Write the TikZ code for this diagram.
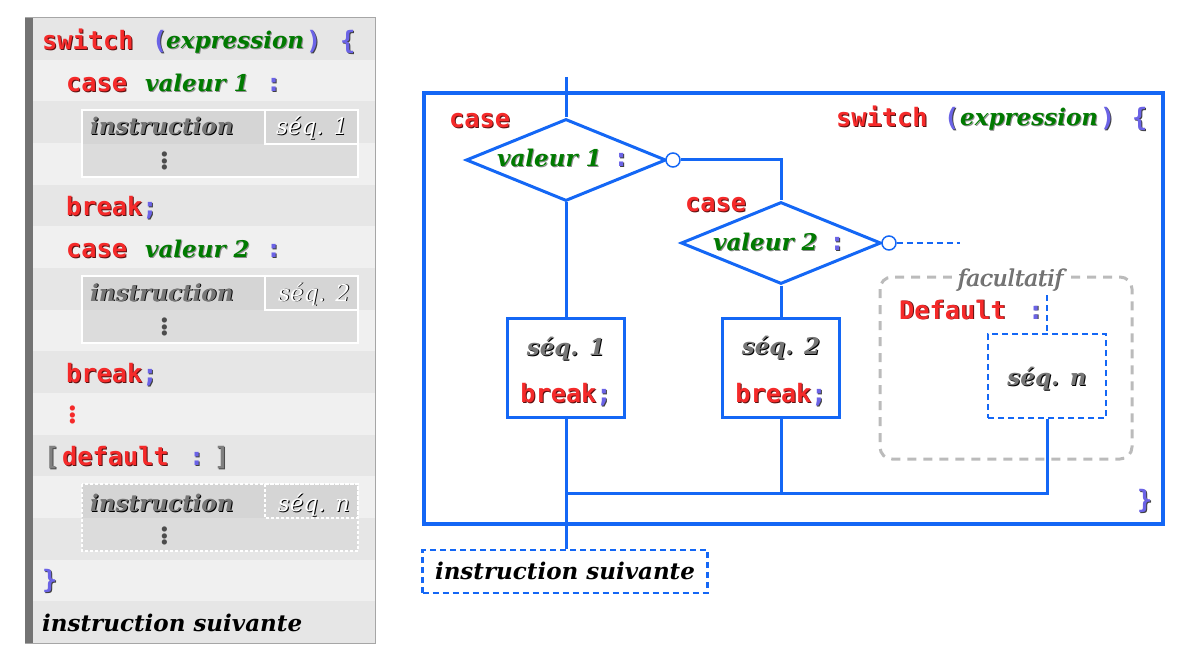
\documentclass[tikz,border=0pt]{standalone}
\usepackage{fontspec}
\setmainfont{DejaVu Serif}
\newfontfamily\kwf{DejaVu Sans Mono}[Scale=1.1]
\usetikzlibrary{shapes.geometric}
\definecolor{kred}{HTML}{F52A2A}
\definecolor{kredsh}{HTML}{5A1010}
\definecolor{grn}{HTML}{007A00}
\definecolor{purp}{HTML}{6B63E6}
\definecolor{gtxt}{HTML}{777777}
\definecolor{lblue}{HTML}{1467F5}
\definecolor{rowA}{HTML}{E6E6E6}
\definecolor{rowB}{HTML}{F0F0F0}
\definecolor{boxA}{HTML}{D5D5D5}
\definecolor{boxB}{HTML}{DCDCDC}
\definecolor{fgray}{HTML}{BBBBBB}
\newcommand\shd[3]{\rlap{\kern1pt\raisebox{-1pt}{\color{#1}#3}}{\color{#2}#3}}
\newcommand\kw[1]{\shd{kredsh}{kred}{\kwf\bfseries #1}}
\newcommand\pu[1]{\shd{black!75}{purp}{\kwf\bfseries #1}}
\newcommand\gr[1]{\shd{black!45}{grn}{\itshape\bfseries #1}}
\newcommand\gy[1]{\shd{black}{gtxt}{\itshape\bfseries #1}}
\newcommand\wh[1]{\shd{black}{white}{\itshape #1}}
\newcommand\bk[1]{{\color{black}\itshape\bfseries #1}}
\begin{document}
\begin{tikzpicture}[x=1pt,y=-1pt,
  txt/.style={inner sep=0pt, anchor=base west, font=\fontsize{23}{27}\selectfont},
  ctxt/.style={inner sep=0pt, anchor=base, font=\fontsize{23}{27}\selectfont},
  dots/.style={inner sep=0pt, font=\fontsize{40}{44}\selectfont},
  bl/.style={draw=lblue, line width=3pt},
  dia/.style={bl, diamond, minimum width=200pt, minimum height=82pt, inner sep=0pt},
  circ/.style={draw=lblue, line width=1.5pt, fill=white, circle, minimum size=14pt, inner sep=0pt},
  seqbox/.style={bl, fill=white, minimum width=117pt, minimum height=99pt, inner sep=0pt},
  dbox/.style={draw=lblue, line width=2.5pt, dash pattern=on 6pt off 4pt, inner sep=0pt}]
\useasboundingbox (0,0) rectangle (1197,663);
% ---------- left panel ----------
\foreach \i in {0,2,...,14} {\fill[rowA] (25,18+\i*41.67) rectangle (375,18+\i*41.67+41.67);}
\foreach \i in {1,3,...,13} {\fill[rowB] (25,18+\i*41.67) rectangle (375,18+\i*41.67+41.67);}
\draw[gray!70, line width=1pt] (25,18) rectangle (375,643);
\fill[gray!90!black] (25,18) rectangle (33,643);
% boxes
\foreach \y in {110,276} {
  \fill[boxA] (82,\y) rectangle (358,\y+34);
  \fill[boxB] (82,\y+34) rectangle (358,\y+67);
  \draw[white, line width=2pt] (82,\y) rectangle (358,\y+67);
  \draw[white, line width=2pt] (265,\y) rectangle (358,\y+34);
}
\fill[boxA] (82,484) rectangle (358,518);
\fill[boxB] (82,518) rectangle (358,551);
\draw[white, line width=1.5pt, dash pattern=on 3pt off 2pt] (82,484) rectangle (358,551);
\draw[white, line width=1.5pt, dash pattern=on 3pt off 2pt] (265,484) rectangle (358,518);
\node[txt] (ls) at (42,50) {\kw{switch}};
\node[txt] (lso) at (152,50) {\pu{(}};
\node[txt] (lse) at (166,49) {\gr{expression}};
\node[txt] (lsc) at (306,50) {\pu{)}};
\node[txt] (lsb) at (340,50) {\pu{\{}};
\node[txt] (lc1) at (66,92) {\kw{case}};
\node[txt] (lv1) at (145,92) {\gr{valeur 1}};
\node[txt] (lp1) at (266,92) {\pu{:}};
\node[txt] (li1) at (90,135) {\gy{instruction}};
\node[ctxt] (lq1) at (312,135) {\wh{séq. 1}};
\node[dots] (ld1) at (165,158) {\color{black!70}$\vdots$};
\node[txt] (lb1) at (66,216) {\kw{break}\pu{;}};
\node[txt] (lc2) at (66,258) {\kw{case}};
\node[txt] (lv2) at (145,258) {\gr{valeur 2}};
\node[txt] (lp2) at (266,258) {\pu{:}};
\node[txt] (li2) at (90,301) {\gy{instruction}};
\node[ctxt] (lq2) at (314,301) {\wh{séq. 2}};
\node[dots] (ld2) at (165,324) {\color{black!70}$\vdots$};
\node[txt] (lb2) at (66,382) {\kw{break}\pu{;}};
\node[dots] (ldr) at (73,412) {\color{kred}$\vdots$};
\node[txt] (lob) at (44,465) {\shd{black!70}{gray}{\kwf\bfseries [}};
\node[txt] (ldf) at (62,465) {\kw{default}};
\node[txt] (ldc) at (189,465) {\pu{:}};
\node[txt] (lcl) at (214,465) {\shd{black!70}{gray}{\kwf\bfseries ]}};
\node[txt] (li3) at (90,511) {\gy{instruction}};
\node[ctxt] (lq3) at (314,511) {\wh{séq. n}};
\node[dots] (ld3) at (165,533) {\color{black!70}$\vdots$};
\node[txt] (lcb) at (42,588) {\pu{\}}};
\node[txt] (lis) at (42,631) {\bk{instruction suivante}};
% ---------- right diagram ----------
\draw[draw=lblue, line width=4.5pt] (424,93) rectangle (1163,524);
\coordinate (top) at (566,77);
\node[dia] (d1) at (566,160) {};
\node[dia] (d2) at (781,243) {};
\node[circ] (c1) at (673,160) {};
\node[circ] (c2) at (889,243) {};
\coordinate (c2e) at (960,243);
\node[seqbox] (s1) at (566,367.5) {};
\node[seqbox] (s2) at (781,367.5) {};
\node[dbox, minimum width=118pt, minimum height=84pt] (sn) at (1047,376) {};
\node[dbox, minimum width=285pt, minimum height=43pt] (is) at (565,571.5) {};
\coordinate (m) at (566,493);
\coordinate (dft) at (1047,295);
\draw[bl] (top) -- (d1.north);
\draw[bl] (d1.south) -- (s1.north);
\draw[bl] (c1.east) -| (d2.north);
\draw[bl] (d2.south) -- (s2.north);
\draw[draw=lblue, line width=2.5pt, dash pattern=on 6pt off 4pt] (c2.east) -- (c2e);
\draw[bl] (s1.south) -- (s1.south |- is.north);
\draw[bl] (sn.south) |- (m);
\draw[bl] (s2.south) -- (s2.south |- m);
\draw[draw=lblue, line width=2.5pt, dash pattern=on 6pt off 4pt] (dft) -- (sn.north);
% facultatif
\draw[fgray, line width=3pt, dash pattern=on 9pt off 7pt, rounded corners=12pt] (880,277) rectangle (1132,459);
\node[ctxt, fill=white, inner xsep=5pt, inner ysep=2pt] (fac) at (1010,286) {\shd{black!60}{gtxt}{\itshape facultatif}};
\node[txt] (dfl) at (899,319) {\kw{Default}};
\node[txt] (dfc) at (1028,319) {\pu{:}};
% labels
\node[txt] (rc1) at (449,128) {\kw{case}};
\node[txt] (rc2) at (685,212) {\kw{case}};
\node[ctxt] (rv1) at (563,167) {\gr{valeur 1}\kern12pt\pu{:}};
\node[ctxt] (rv2) at (779,251) {\gr{valeur 2}\kern12pt\pu{:}};
\node[ctxt] (rq1) at (566,355) {\gy{séq. 1}};
\node[ctxt] (rb1) at (566,402) {\kw{break}\pu{;}};
\node[ctxt] (rq2) at (781,354) {\gy{séq. 2}};
\node[ctxt] (rb2) at (781,402) {\kw{break}\pu{;}};
\node[ctxt] (rqn) at (1047,385) {\gy{séq. n}};
\node[ctxt] (ris) at (565,579) {\bk{instruction suivante}};
\node[txt] (rsw) at (836,127) {\kw{switch}};
\node[txt] (rso) at (944,127) {\pu{(}};
\node[txt] (rse) at (960,126) {\gr{expression}};
\node[txt] (rsc) at (1100,127) {\pu{)}};
\node[txt] (rsb) at (1132,127) {\pu{\{}};
\node[txt] (rcb) at (1137,508) {\pu{\}}};
\end{tikzpicture}
\end{document}
